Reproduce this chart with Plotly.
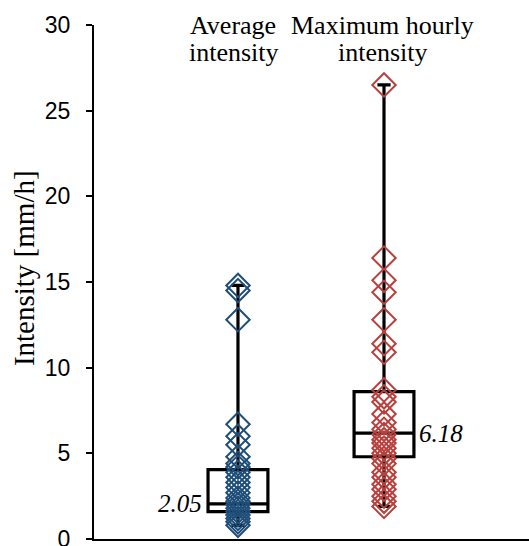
import plotly.graph_objects as go

# ---- data ----
categories = ["Average intensity", "Maximum hourly intensity"]
label_line1 = ["Average", "Maximum hourly"]
label_line2 = ["intensity", "intensity"]
y_title = "Intensity [mm/h]"

avg_points = [14.8, 14.5, 12.8, 6.7, 6.0, 5.5, 4.8, 4.4, 4.2, 3.9, 3.6, 3.3, 3.0,
              2.7, 2.4, 2.2, 2.0, 1.8, 1.6, 1.4, 1.2, 1.0, 0.8]
max_points = [26.5, 16.4, 15.1, 14.4, 12.8, 11.4, 10.9, 8.7, 8.3, 8.0, 7.3, 6.8,
              6.4, 6.1, 5.8, 5.6, 5.3, 5.0, 4.7, 4.4, 3.9, 3.6, 3.2, 2.9, 2.5, 2.2, 1.9]

box_q1 = [1.6, 4.8]
box_median = [2.05, 6.18]
box_q3 = [4.05, 8.6]
box_lower = [0.8, 1.9]
box_upper = [14.8, 26.5]
median_labels = ["2.05", "6.18"]

point_colors = ["#1F4E79", "#B8413E"]
y_ticks = [0, 5, 10, 15, 20, 25, 30]

fig = go.Figure()

for i, cat in enumerate(categories):
    fig.add_trace(go.Box(
        x=[cat], q1=[box_q1[i]], median=[box_median[i]], q3=[box_q3[i]],
        lowerfence=[box_lower[i]], upperfence=[box_upper[i]],
        boxpoints=False, width=0.41, whiskerwidth=0.22,
        line=dict(color="black", width=3.2),
        fillcolor="rgba(0,0,0,0)", showlegend=False, hoverinfo="skip",
    ))

for i, pts in enumerate([avg_points, max_points]):
    fig.add_trace(go.Scatter(
        x=[categories[i]] * len(pts), y=pts, mode="markers",
        marker=dict(symbol="diamond-open", size=18, color=point_colors[i],
                    line=dict(width=2, color=point_colors[i])),
        cliponaxis=False, showlegend=False,
    ))

# median labels
fig.add_annotation(x=categories[0], y=box_median[0], text="<i>" + median_labels[0] + "</i>",
                   showarrow=False, xanchor="right", yanchor="middle", xshift=-34,
                   font=dict(family="Liberation Serif", size=25, color="black"))
fig.add_annotation(x=categories[1], y=box_median[1], text="<i>" + median_labels[1] + "</i>",
                   showarrow=False, xanchor="left", yanchor="middle", xshift=33,
                   font=dict(family="Liberation Serif", size=25, color="black"))

# category labels at top
shifts = [-5, -2]
for i, cat in enumerate(categories):
    fig.add_annotation(x=cat, y=30.0, yref="y", text=label_line1[i], showarrow=False,
                       xanchor="center", yanchor="middle", xshift=shifts[i],
                       font=dict(family="Liberation Serif", size=26, color="black"))
    fig.add_annotation(x=cat, y=28.42, yref="y", text=label_line2[i], showarrow=False,
                       xanchor="center", yanchor="middle", xshift=shifts[i] + 1,
                       font=dict(family="Liberation Serif", size=26, color="black"))

# y-axis title
fig.add_annotation(x=0, xref="paper", y=0.527, yref="paper", text=y_title,
                   textangle=-90, showarrow=False, xanchor="center", yanchor="middle",
                   xshift=-70,
                   font=dict(family="Liberation Serif", size=29, color="black"))

fig.update_layout(
    width=529, height=546,
    margin=dict(l=94, r=0, t=25, b=7, autoexpand=False),
    paper_bgcolor="white", plot_bgcolor="white",
    xaxis=dict(type="category", categoryorder="array", categoryarray=categories,
               range=[-0.986, 1.993], showticklabels=False, ticks="",
               showline=True, linecolor="black", linewidth=2, showgrid=False,
               zeroline=False, fixedrange=True),
    yaxis=dict(range=[0, 30], tickvals=y_ticks, ticks="outside", ticklen=6, tickwidth=2,
               tickcolor="black", showline=True, linecolor="black", linewidth=2,
               showgrid=False, zeroline=False, ticklabelstandoff=11,
               ticklabeloverflow="allow", fixedrange=True,
               tickfont=dict(family="Liberation Sans", size=23, color="black")),
)

fig.write_html("out.html", config={"displayModeBar": False},
               post_script="document.body.style.margin='0';document.body.style.overflow='hidden';")
